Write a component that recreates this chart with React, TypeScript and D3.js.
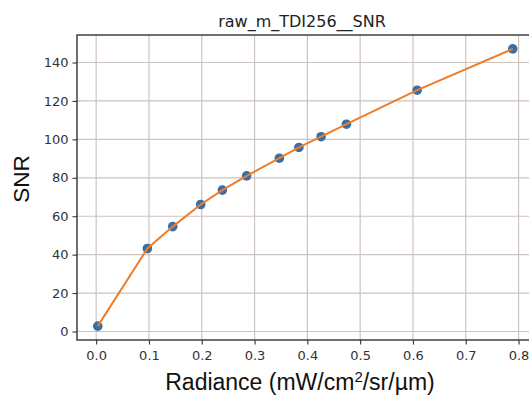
import * as d3 from 'd3';
import * as React from 'react';

const radiance = [0.003, 0.097, 0.145, 0.198, 0.239, 0.285, 0.347, 0.384, 0.426, 0.474, 0.608, 0.789];
const snr = [2.8, 43.2, 54.6, 66.1, 73.6, 81.0, 90.2, 95.8, 101.4, 107.9, 125.6, 147.1];
const xTicks = [0, 0.1, 0.2, 0.3, 0.4, 0.5, 0.6, 0.7, 0.8];
const yTicks = [0, 20, 40, 60, 80, 100, 120, 140];

const App = () => {
  const ref = React.useRef<SVGSVGElement>(null);

  React.useEffect(() => {
    const width = 529,
      height = 396;
    const margin = { top: 35, left: 77, bottom: 340, right: 533.5 };

    const svg = d3.select(ref.current);
    svg.selectAll('*').remove();
    svg.append('rect').attr('width', width).attr('height', height).attr('fill', '#fff');

    const data = radiance.map((r, i) => ({ x: r, y: snr[i] }));

    // matplotlib-like 5% margins
    const xr = d3.extent(radiance) as [number, number];
    const yr = d3.extent(snr) as [number, number];
    const xPad = (xr[1] - xr[0]) * 0.05;
    const yPad = (yr[1] - yr[0]) * 0.05;

    const x = d3.scaleLinear().domain([xr[0] - xPad, xr[1] + xPad]).range([margin.left, margin.right]);
    const y = d3.scaleLinear().domain([yr[0] - yPad, yr[1] + yPad]).range([margin.bottom, margin.top]);

    const grid = svg.append('g');
    grid
      .selectAll('line.vx')
      .data(xTicks)
      .join('line')
      .attr('x1', (d) => x(d))
      .attr('x2', (d) => x(d))
      .attr('y1', margin.top)
      .attr('y2', margin.bottom)
      .attr('stroke', '#cdc3bf')
      .attr('stroke-width', 1.2);
    grid
      .selectAll('line.hy')
      .data(yTicks)
      .join('line')
      .attr('x1', margin.left)
      .attr('x2', margin.right)
      .attr('y1', (d) => y(d))
      .attr('y2', (d) => y(d))
      .attr('stroke', '#cdc3bf')
      .attr('stroke-width', 1.2);

    const line = d3
      .line<{ x: number; y: number }>()
      .x((d) => x(d.x))
      .y((d) => y(d.y));

    svg
      .append('g')
      .selectAll('circle')
      .data(data)
      .join('circle')
      .attr('cx', (d) => x(d.x))
      .attr('cy', (d) => y(d.y))
      .attr('r', 4.8)
      .attr('fill', '#3a6ea5');

    svg
      .append('path')
      .datum(data)
      .attr('d', line)
      .attr('fill', 'none')
      .attr('stroke', '#ee7d2a')
      .attr('stroke-width', 2);

    const xAxis = svg
      .append('g')
      .attr('transform', `translate(0,${margin.bottom})`)
      .call(d3.axisBottom(x).tickValues(xTicks).tickFormat(d3.format('.1f')).tickSize(4.5).tickPadding(6));
    const yAxis = svg
      .append('g')
      .attr('transform', `translate(${margin.left},0)`)
      .call(d3.axisLeft(y).tickValues(yTicks).tickSize(4.5).tickPadding(4));

    [xAxis, yAxis].forEach((a) => {
      a.select('.domain').remove();
      a.selectAll('line').attr('stroke', '#333').attr('stroke-width', 1.1);
      a.selectAll('text')
        .attr('fill', '#333')
        .style('font-family', '"DejaVu Sans", sans-serif')
        .style('font-size', '13px');
    });

    // spines
    svg
      .append('rect')
      .attr('x', margin.left)
      .attr('y', margin.top)
      .attr('width', margin.right - margin.left)
      .attr('height', margin.bottom - margin.top)
      .attr('fill', 'none')
      .attr('stroke', '#333')
      .attr('stroke-width', 1.4);

    svg
      .append('text')
      .attr('x', 302)
      .attr('y', 27)
      .attr('text-anchor', 'middle')
      .attr('fill', '#222')
      .style('font-family', '"DejaVu Sans", sans-serif')
      .style('font-size', '16px')
      .text('raw_m_TDI256__SNR');

    svg
      .append('text')
      .attr('transform', 'translate(29,179) rotate(-90)')
      .attr('text-anchor', 'middle')
      .attr('fill', '#111')
      .style('font-family', '"Liberation Sans", Arial, sans-serif')
      .style('font-size', '22.5px')
      .text('SNR');

    const xl = svg
      .append('text')
      .attr('x', 300)
      .attr('y', 390)
      .attr('text-anchor', 'middle')
      .attr('fill', '#111')
      .style('font-family', '"Liberation Sans", Arial, sans-serif')
      .style('font-size', '23px');
    xl.append('tspan').text('Radiance (mW/cm');
    xl.append('tspan').attr('dy', -8).style('font-size', '15px').text('2');
    xl.append('tspan').attr('dy', 8).text('/sr/\u00b5m)');
  }, []);

  return (
    <svg
      ref={ref}
      width={529}
      height={396}
      style={{ position: 'absolute', left: 0, top: 0, display: 'block' }}
    />
  );
};

export default App;
